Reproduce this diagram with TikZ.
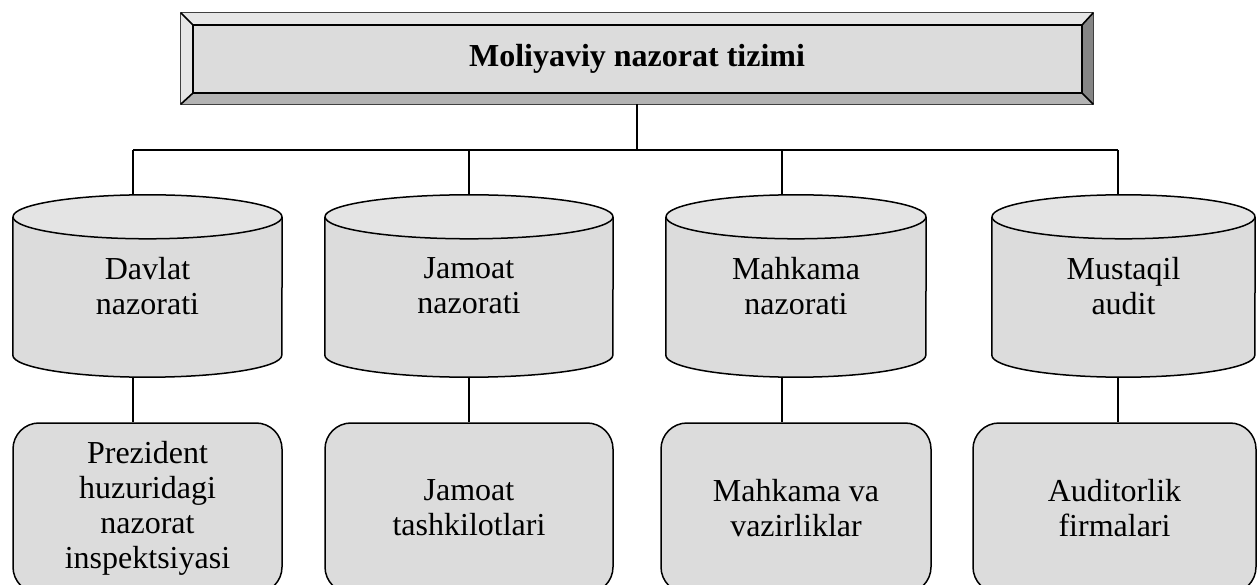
\documentclass[tikz,border=0pt]{standalone}
\usepackage{fontspec}
\setmainfont{Liberation Serif}
\usetikzlibrary{calc,backgrounds}

\definecolor{facegray}{HTML}{DCDCDC}
\definecolor{lightbevel}{HTML}{E6E6E6}
\definecolor{lowbevel}{HTML}{B3B3B3}
\definecolor{darkbevel}{HTML}{858585}
\definecolor{captop}{HTML}{E4E4E4}

\begin{document}
\begin{tikzpicture}[x=1pt,y=1pt,
  txt/.style={font=\fontsize{32}{35}\selectfont, align=center, text=black},
  cylnode/.style={txt, minimum height=182pt, inner sep=0pt},
  boxnode/.style={txt, draw, line width=1.5pt, fill=facegray,
    rounded corners=26pt, minimum height=170pt, inner sep=0pt},
  link/.style={line width=1.4pt},
  cylline/.style={line width=1.5pt, line join=round}]

\useasboundingbox (0,0) rectangle (1257,584);
\clip (0,0) rectangle (1257,584);

% title panel
\node[txt, font=\fontsize{32}{35}\selectfont\bfseries,
      minimum width=912pt, minimum height=91pt, inner sep=0pt]
      (top) at (637,525.5) {Moliyaviy nazorat tizimi};

% branches
\node[cylnode, minimum width=269pt] (c1) at (147.5,298) {Davlat\\nazorati};
\node[cylnode, minimum width=288pt] (c2) at (469,298)   {Jamoat\\nazorati};
\node[cylnode, minimum width=260pt] (c3) at (796,298)   {Mahkama\\nazorati};
\node[cylnode, minimum width=263pt] (c4) at (1123.5,298) {Mustaqil\\audit};

% bodies under each branch
\node[boxnode, minimum width=269pt] (b1) at (147.5,76) {Prezident\\huzuridagi\\nazorat\\inspektsiyasi};
\node[boxnode, minimum width=288pt] (b2) at (469,76)   {Jamoat\\tashkilotlari};
\node[boxnode, minimum width=270pt] (b3) at (796,76)   {Mahkama va\\vazirliklar};
\node[boxnode, minimum width=283pt] (b4) at (1114.5,76) {Auditorlik\\firmalari};

\begin{scope}[on background layer]
  % bevelled frame of the title panel
  \coordinate (onw) at (top.north west);
  \coordinate (one) at (top.north east);
  \coordinate (osw) at (top.south west);
  \coordinate (ose) at (top.south east);
  \coordinate (inw) at ($(onw)+(12,-12)$);
  \coordinate (ine) at ($(one)+(-11,-12)$);
  \coordinate (isw) at ($(osw)+(12,11)$);
  \coordinate (ise) at ($(ose)+(-11,11)$);
  \fill[lightbevel] (onw) -- (one) -- (ine) -- (inw) -- cycle;
  \fill[lightbevel] (onw) -- (inw) -- (isw) -- (osw) -- cycle;
  \fill[lowbevel] (osw) -- (isw) -- (ise) -- (ose) -- cycle;
  \fill[darkbevel] (one) -- (ose) -- (ise) -- (ine) -- cycle;
  \fill[facegray] (inw) rectangle (ise);
  \draw[line width=1pt, black!75] (onw) rectangle (ose);
  \draw[line width=1.8pt] (inw) rectangle (ise);
  \draw[line width=1.6pt] (onw) -- (inw) (one) -- (ine) (osw) -- (isw) (ose) -- (ise);

  % cylinders
  \foreach \n/\rx in {c1/134.5, c2/144, c3/130, c4/131.5} {
    \fill[facegray] ($(\n.north west)+(0,-22)$) -- ($(\n.south west)+(0,22)$)
      arc[start angle=180, end angle=360, x radius=\rx, y radius=22]
      -- ($(\n.north east)+(0,-22)$) -- cycle;
    \draw[cylline] ($(\n.north west)+(0,-22)$) -- ($(\n.south west)+(0,22)$)
      arc[start angle=180, end angle=360, x radius=\rx, y radius=22]
      -- ($(\n.north east)+(0,-22)$);
    \filldraw[cylline, fill=captop] ($(\n.north)+(0,-22)$)
      ellipse[x radius=\rx, y radius=22];
  }
\end{scope}

% connectors
\coordinate (j1) at (133,434);
\coordinate (j2) at (469,434);
\coordinate (j3) at (782,434);
\coordinate (j4) at (1118,434);

\draw[link] (top.south) -- (top.south |- j1);
\draw[link] (j1) -- (j4);
\foreach \k in {1,2,3,4} {
  \draw[link] (j\k) -- (j\k |- c\k.north);
  \draw[link] ($(c\k.south -| j\k)+(0,0.5)$) -- (j\k |- b\k.north);
}
\end{tikzpicture}
\end{document}
